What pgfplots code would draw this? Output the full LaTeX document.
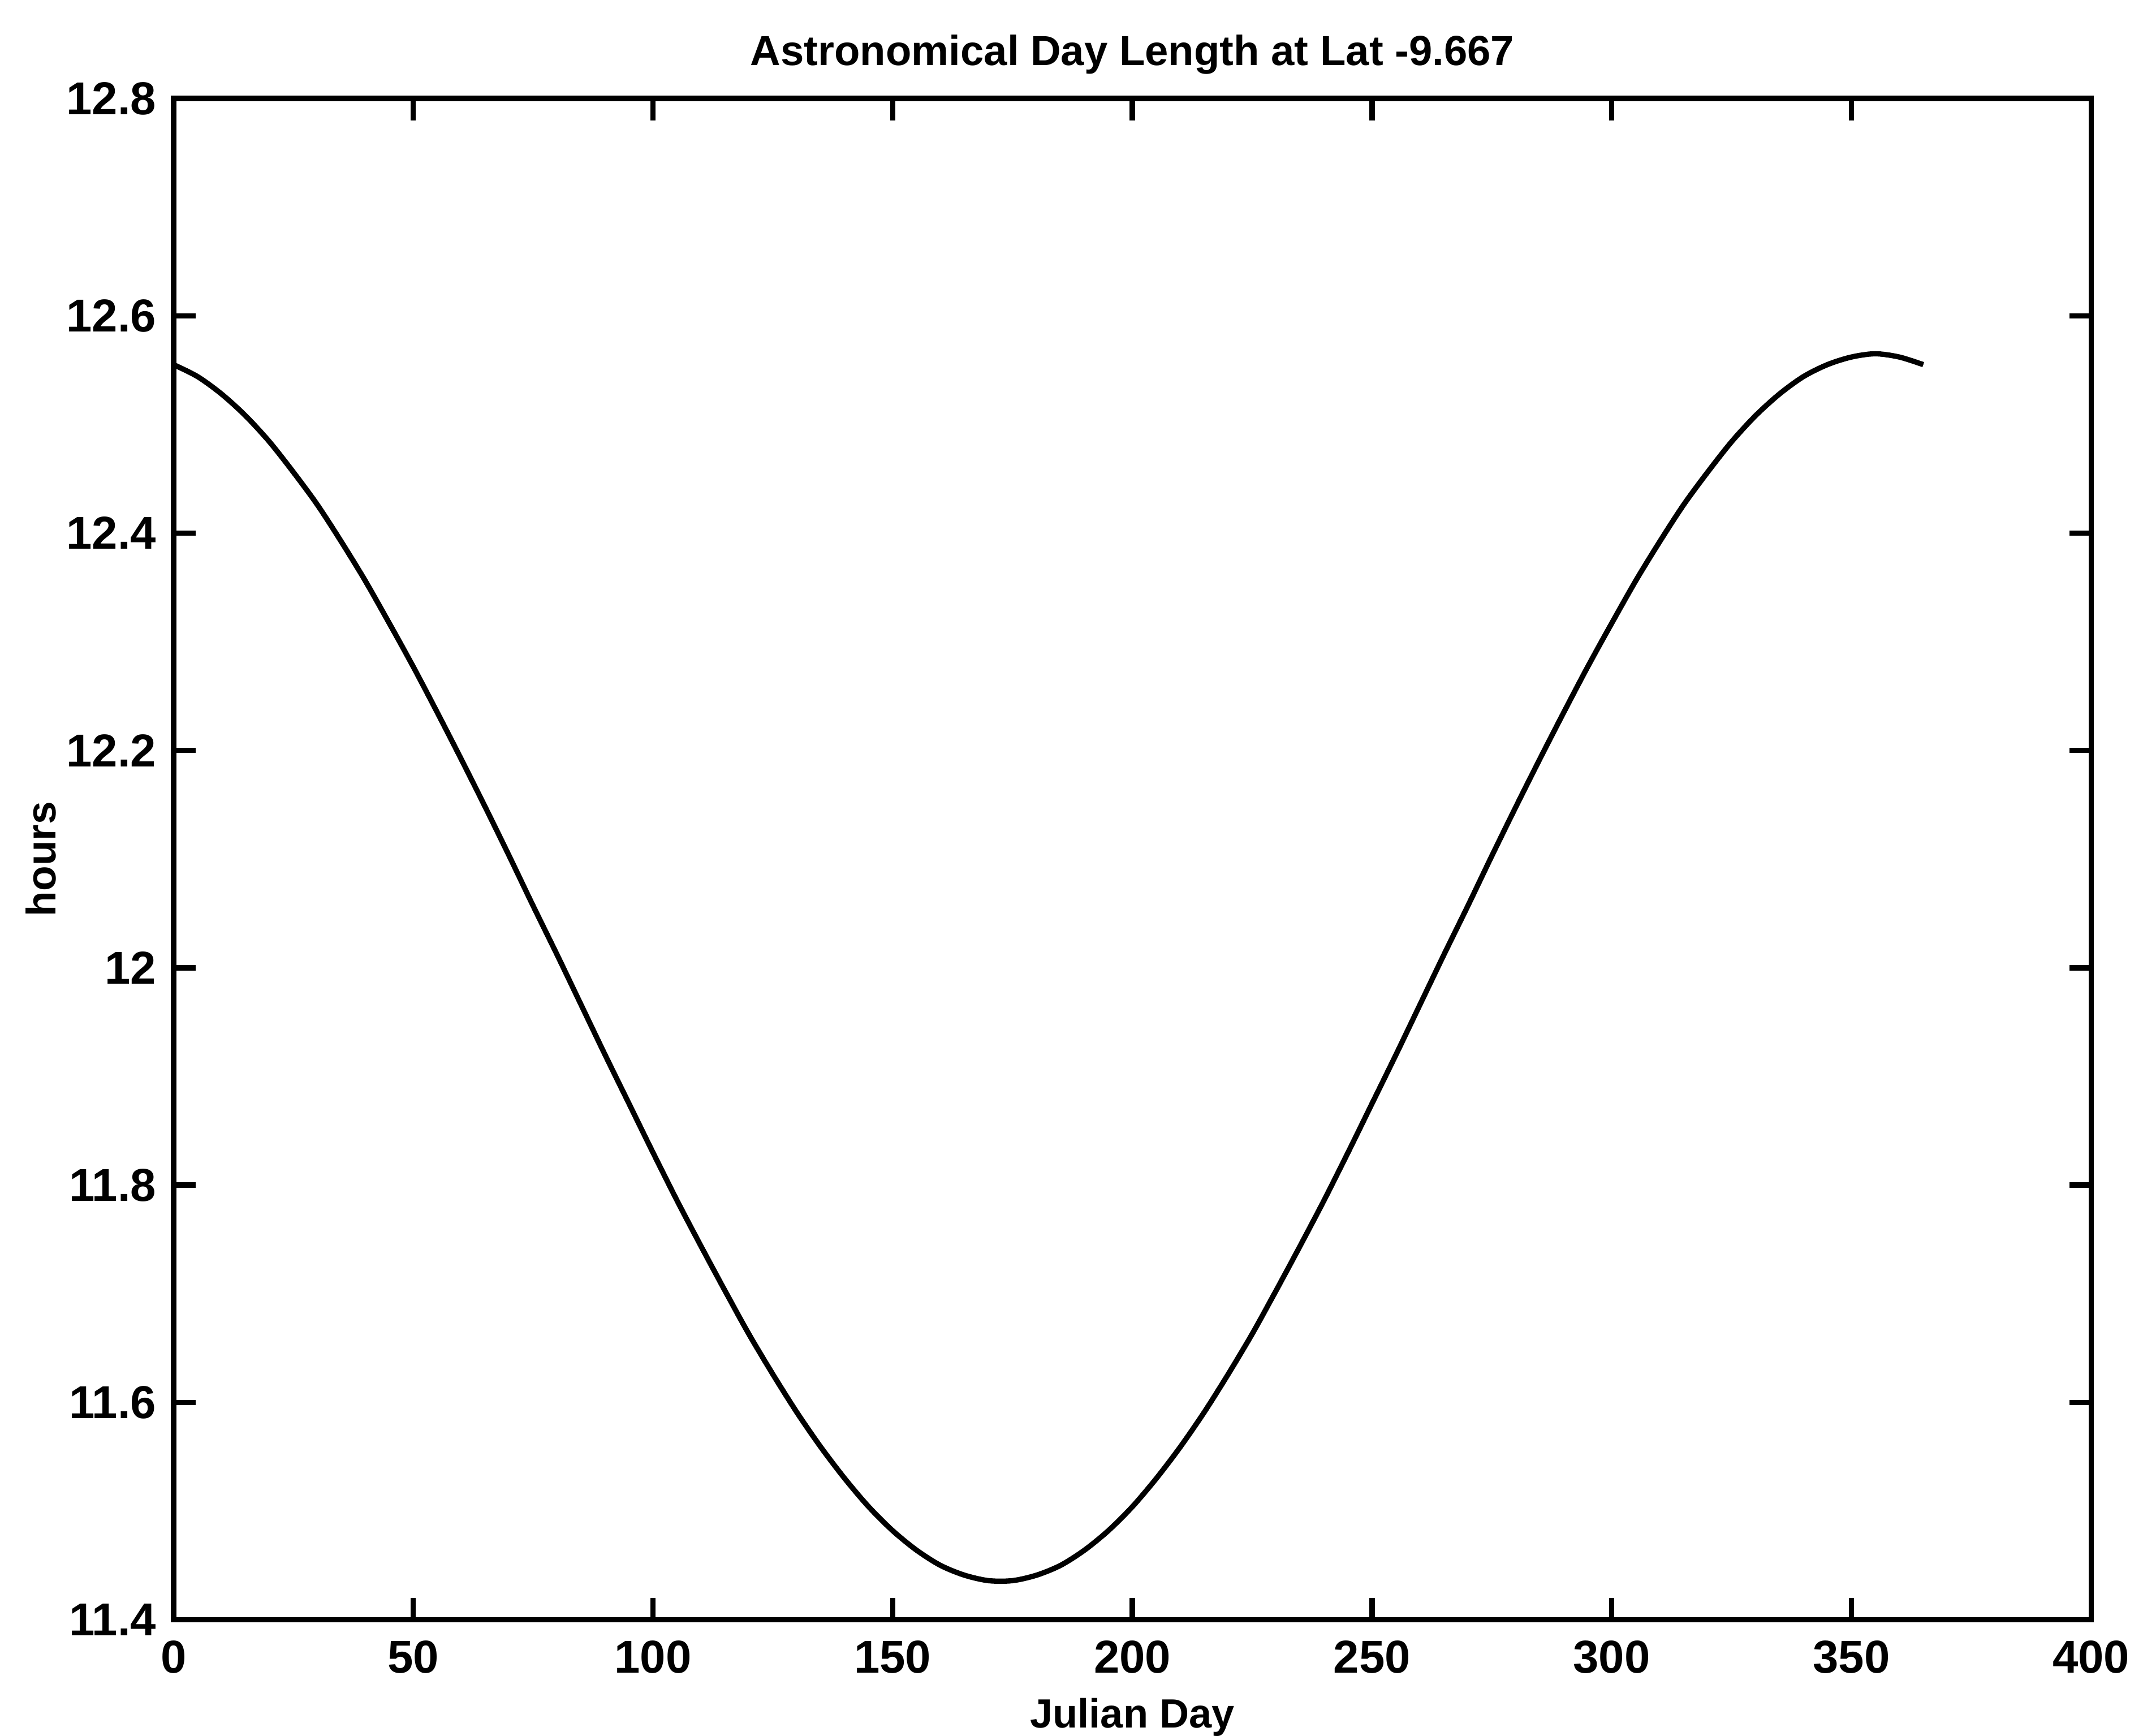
\documentclass[border=0pt]{standalone}
\usepackage{pgfplots}
\pgfplotsset{compat=1.18}
\usepackage{fontspec}
\setmainfont{Liberation Sans}
\begin{document}
\begin{tikzpicture}
\begin{axis}[
  at={(0,0)}, anchor=south west,
  scale only axis,
  width=140.3mm, height=111.3mm,
  xmin=0, xmax=400, ymin=11.4, ymax=12.8,
  xtick={0,50,100,150,200,250,300,350,400},
  ytick={11.4,11.6,11.8,12,12.2,12.4,12.6,12.8},
  yticklabels={11.4,11.6,11.8,12,12.2,12.4,12.6,12.8},
  tick align=inside,
  major tick length=1.6mm,
  axis line style={line width=1.1pt},
  every tick/.style={black, line width=1.1pt},
  /pgf/number format/assume math mode=true,
  tick label style={font=\fontsize{9.6}{10}\selectfont\bfseries},
  xticklabel style={anchor=base, yshift=-3.9mm, inner sep=0pt},
  yticklabel style={anchor=east, xshift=-1.2mm, inner sep=0pt},
  title={Astronomical Day Length at Lat -9.667},
  title style={font=\fontsize{8.75}{10}\selectfont\bfseries, at={(axis description cs:0.5,1.0027)}, anchor=base, yshift=0pt, inner sep=0pt},
  xlabel={Julian Day},
  xlabel style={font=\fontsize{8.5}{10}\selectfont\bfseries, at={(axis description cs:0.5,-0.0710)}, anchor=base, inner sep=0pt},
  ylabel={hours},
  ylabel style={font=\fontsize{8.6}{10}\selectfont\bfseries, at={(axis description cs:-0.0691,0.5)}, anchor=center, inner sep=0pt},
]
\addplot[black, line width=1.1pt, smooth] coordinates {
(0,12.555) (5,12.544) (10,12.528) (15,12.508) (20,12.484) (25,12.456)
(30,12.426) (35,12.392) (40,12.356) (45,12.317) (50,12.277) (55,12.235)
(60,12.192) (65,12.148) (70,12.103) (75,12.057) (80,12.012) (85,11.966)
(90,11.920) (95,11.875) (100,11.830) (105,11.786) (110,11.744) (115,11.703)
(120,11.663) (125,11.626) (130,11.591) (135,11.559) (140,11.530) (145,11.504)
(150,11.482) (155,11.464) (160,11.450) (165,11.441) (170,11.436) (175,11.436)
(180,11.441) (185,11.450) (190,11.464) (195,11.482) (200,11.504) (205,11.530)
(210,11.559) (215,11.591) (220,11.626) (225,11.663) (230,11.703) (235,11.744)
(240,11.786) (245,11.830) (250,11.875) (255,11.920) (260,11.966) (265,12.012)
(270,12.057) (275,12.103) (280,12.148) (285,12.192) (290,12.235) (295,12.277)
(300,12.317) (305,12.356) (310,12.392) (315,12.426) (320,12.456) (325,12.484)
(330,12.508) (335,12.528) (340,12.544) (345,12.555) (350,12.562) (355,12.565)
(360,12.562) (365,12.555)
};
\end{axis}
\pgfresetboundingbox
\path[use as bounding box] (-12.7mm,-8.5mm) rectangle (144.1mm,118.5mm);
\end{tikzpicture}
\end{document}
